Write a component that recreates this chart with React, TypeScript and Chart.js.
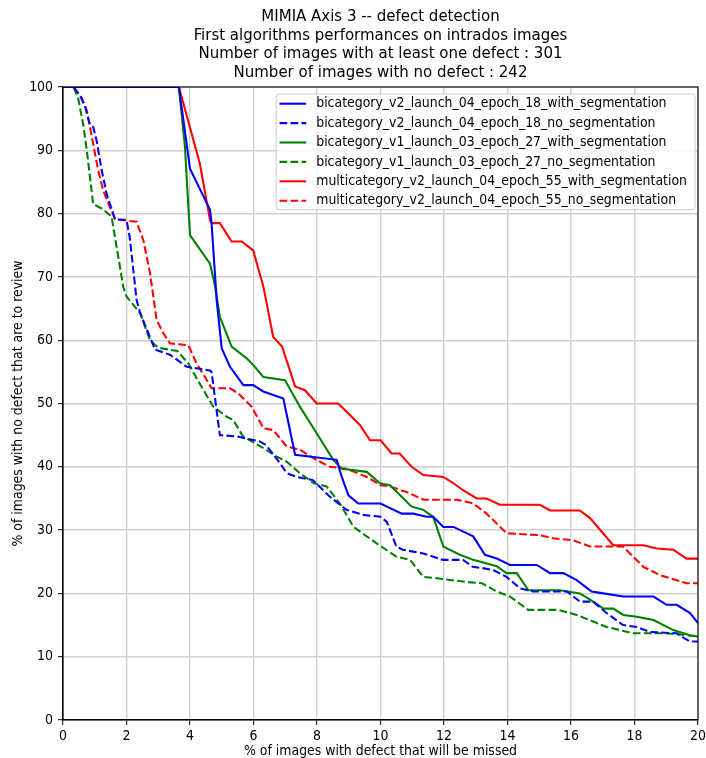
import React, { useEffect, useRef } from "react";
import { Chart, registerables } from "chart.js";

Chart.register(...registerables);

// ---------- text ----------
const TITLE_LINES = [
  "MIMIA Axis 3 -- defect detection",
  "First algorithms performances on intrados images",
  "Number of images with at least one defect : 301",
  "Number of images with no defect : 242",
];
const X_LABEL = "% of images with defect that will be missed";
const Y_LABEL = "% of images with no defect that are to review";

// ---------- axes ----------
const X_MIN = 0;
const X_MAX = 20;
const X_STEP = 2;
const Y_MIN = 0;
const Y_MAX = 100;
const Y_STEP = 10;

// ---------- series labels ----------
const LABELS = [
  "bicategory_v2_launch_04_epoch_18_with_segmentation",
  "bicategory_v2_launch_04_epoch_18_no_segmentation",
  "bicategory_v1_launch_03_epoch_27_with_segmentation",
  "bicategory_v1_launch_03_epoch_27_no_segmentation",
  "multicategory_v2_launch_04_epoch_55_with_segmentation",
  "multicategory_v2_launch_04_epoch_55_no_segmentation",
];

// ---------- series values ----------
// bicategory_v2 with segmentation
const b2SegX = [0, 3.65, 4.0, 4.63, 4.68, 4.84, 5.0, 5.26, 5.68, 5.99, 6.31, 6.94, 7.31, 8.62, 8.78, 8.99, 9.3, 10.0, 10.67, 11.03, 11.45, 11.66, 11.98, 12.3, 12.92, 13.29, 13.66, 14.08, 14.92, 15.34, 15.76, 16.18, 16.65, 17.02, 17.65, 18.6, 19.01, 19.33, 19.75, 20];
const b2SegY = [100, 100, 87.1, 80.6, 78.5, 66.3, 58.7, 55.8, 52.9, 52.9, 51.9, 50.8, 41.9, 41.1, 38.4, 35.5, 34.2, 34.2, 32.6, 32.6, 32.1, 32.1, 30.5, 30.5, 29.0, 26.1, 25.5, 24.5, 24.5, 23.2, 23.2, 22.1, 20.3, 20.0, 19.5, 19.5, 18.2, 18.2, 16.9, 15.3];

// bicategory_v2 no segmentation
const b2NoX = [0, 0.33, 0.54, 0.69, 0.85, 0.95, 1.06, 1.22, 1.38, 1.48, 1.64, 2.0, 2.1, 2.32, 2.43, 2.69, 2.9, 3.37, 3.9, 4.63, 4.68, 4.94, 5.47, 6.2, 6.4, 6.83, 7.05, 7.36, 7.87, 8.4, 8.93, 9.45, 10.0, 10.2, 10.5, 10.7, 11.35, 11.97, 12.6, 12.9, 13.2, 13.55, 13.97, 14.4, 14.8, 15.87, 16.28, 16.7, 17.12, 17.64, 18.07, 18.49, 19.33, 19.54, 19.75, 20];
const b2NoY = [100, 100, 98.6, 97.0, 94.0, 93.7, 91.5, 86.8, 83.0, 81.5, 79.1, 79.0, 76.3, 66.3, 64.3, 61.1, 58.5, 57.7, 55.8, 55.2, 55.0, 45.0, 44.8, 44.0, 43.4, 40.6, 39.0, 38.4, 37.9, 35.3, 33.2, 32.4, 32.1, 31.3, 27.4, 26.9, 26.3, 25.3, 25.3, 24.2, 24.0, 23.7, 22.6, 20.8, 20.3, 20.3, 18.7, 18.7, 16.9, 15.0, 14.7, 13.9, 13.7, 13.0, 12.4, 12.4];

// bicategory_v1 with segmentation
const b1SegX = [0, 3.65, 3.84, 4.0, 4.63, 4.79, 4.94, 5.31, 5.79, 5.99, 6.31, 6.94, 6.99, 7.46, 7.99, 8.51, 8.78, 9.57, 9.98, 10.3, 10.98, 11.35, 11.66, 11.98, 12.5, 12.92, 13.66, 13.97, 14.29, 14.66, 15.65, 16.28, 16.6, 17.02, 17.33, 17.65, 18.07, 18.6, 19.22, 19.75, 20];
const b1SegY = [100, 100, 90.6, 76.6, 72.1, 68.5, 63.7, 59.0, 57.1, 56.1, 54.2, 53.7, 53.7, 49.5, 45.3, 41.1, 39.7, 39.2, 37.4, 37.1, 33.7, 33.2, 32.1, 27.4, 26.1, 25.3, 24.3, 23.2, 23.2, 20.5, 20.5, 20.0, 19.0, 17.6, 17.6, 16.6, 16.3, 15.8, 14.2, 13.4, 13.2];

// bicategory_v1 no segmentation
const b1NoX = [0, 0.33, 0.47, 0.64, 0.75, 0.95, 1.26, 1.53, 1.9, 2.0, 2.43, 2.74, 3.0, 3.6, 3.95, 4.3, 4.73, 5.16, 5.36, 5.67, 6.3, 6.73, 7.05, 7.46, 7.9, 8.3, 8.72, 9.15, 9.88, 10.5, 10.93, 11.35, 11.77, 12.7, 13.2, 13.66, 14.08, 14.65, 15.6, 16.18, 17.12, 17.96, 19.0, 20];
const b1NoY = [100, 100, 98.4, 94.0, 90.0, 81.5, 80.7, 79.5, 68.4, 66.9, 64.3, 60.0, 58.8, 58.3, 56.3, 53.2, 49.5, 47.9, 47.4, 44.8, 43.0, 41.6, 40.8, 39.0, 37.4, 36.9, 34.2, 30.5, 27.9, 25.8, 25.3, 22.6, 22.4, 21.8, 21.6, 20.3, 19.5, 17.4, 17.4, 16.6, 14.7, 13.7, 13.7, 13.2];

// multicategory_v2 with segmentation
const m2SegX = [0, 3.65, 4.31, 4.63, 4.68, 4.94, 5.31, 5.63, 5.99, 6.31, 6.62, 6.9, 7.31, 7.62, 7.99, 8.67, 9.35, 9.67, 10.0, 10.35, 10.6, 10.98, 11.35, 11.98, 12.3, 12.6, 13.03, 13.34, 13.76, 15.02, 15.34, 16.28, 16.6, 17.33, 18.28, 18.7, 19.22, 19.64, 20];
const m2SegY = [100, 100, 87.9, 79.0, 78.5, 78.5, 75.6, 75.6, 74.2, 68.5, 60.5, 59.0, 52.7, 52.1, 50.0, 50.0, 46.6, 44.2, 44.2, 42.1, 42.1, 40.0, 38.7, 38.4, 37.4, 36.3, 35.0, 35.0, 34.0, 34.0, 33.1, 33.1, 31.9, 27.6, 27.6, 27.1, 26.9, 25.5, 25.5];

// multicategory_v2 no segmentation
const m2NoX = [0, 0.33, 0.59, 0.75, 0.85, 0.95, 1.11, 1.27, 1.48, 1.64, 2.32, 2.53, 2.74, 2.95, 3.16, 3.37, 3.95, 4.21, 4.53, 4.68, 5.26, 5.52, 5.94, 6.31, 6.62, 7.05, 7.46, 7.87, 8.4, 8.93, 9.57, 10.0, 10.3, 10.83, 11.35, 12.4, 12.92, 13.34, 13.55, 13.97, 15.02, 15.44, 16.07, 16.6, 17.64, 18.28, 18.8, 19.64, 20];
const m2NoY = [100, 100, 98.3, 96.3, 93.7, 91.0, 86.8, 83.6, 81.0, 79.1, 78.7, 75.8, 70.6, 63.2, 61.1, 59.5, 59.2, 56.3, 53.7, 52.4, 52.4, 51.6, 49.5, 46.1, 45.8, 43.2, 42.7, 41.4, 40.0, 39.7, 38.4, 37.1, 36.9, 36.0, 34.8, 34.8, 34.2, 32.6, 31.6, 29.5, 29.2, 28.7, 28.4, 27.4, 27.4, 24.2, 22.9, 21.6, 21.6];

// ---------- styles ----------
const FONT = "'DejaVu Sans Condensed', 'DejaVu Sans', sans-serif";
const BLUE = "#0000ff";
const GREEN = "#008000";
const RED = "#ff0000";
const DASH = [7.7, 3.3];
const LINE_W = 2.08;

const toPoints = (xs: number[], ys: number[]) => xs.map((x, i) => ({ x, y: ys[i] }));

const frameAndLegend = {
  id: "frameAndLegend",
  afterDatasetsDraw(chart: any) {
    const { ctx, chartArea } = chart;
    const { left, top, right, bottom } = chartArea;
    ctx.save();
    // frame (all four spines)
    ctx.strokeStyle = "#000";
    ctx.lineWidth = 1.1;
    ctx.setLineDash([]);
    ctx.strokeRect(left, top, right - left, bottom - top);

    // legend inside the plot, upper right
    const fontSize = 13.9;
    ctx.font = `${fontSize}px ${FONT}`;
    const ds = chart.data.datasets;
    const rowH = 19.4;
    const handleStart = 3.3;
    const handleLen = 26.7;
    const textOffset = 40;
    const textW = Math.max(...ds.map((d: any) => ctx.measureText(d.label).width));
    const boxW = textOffset + textW + 8;
    const boxR = right - 3;
    const boxL = boxR - boxW;
    const boxT = top + 7;
    const boxH = 9.7 + (ds.length - 1) * rowH + 9;
    ctx.beginPath();
    ctx.roundRect(boxL, boxT, boxW, boxH, 3);
    ctx.fillStyle = "rgba(255,255,255,0.8)";
    ctx.fill();
    ctx.strokeStyle = "#cccccc";
    ctx.lineWidth = 1;
    ctx.stroke();
    ds.forEach((d: any, i: number) => {
      const cy = boxT + 9.7 + i * rowH;
      ctx.beginPath();
      ctx.setLineDash(d.borderDash || []);
      ctx.strokeStyle = d.borderColor;
      ctx.lineWidth = LINE_W;
      ctx.moveTo(boxL + handleStart, cy);
      ctx.lineTo(boxL + handleStart + handleLen, cy);
      ctx.stroke();
      ctx.setLineDash([]);
      ctx.fillStyle = "#000";
      ctx.textAlign = "left";
      ctx.textBaseline = "middle";
      ctx.fillText(d.label, boxL + textOffset, cy);
    });
    ctx.restore();
  },
};

export default function App() {
  const ref = useRef<HTMLCanvasElement | null>(null);

  useEffect(() => {
    document.body.style.margin = "0";
    const canvas = ref.current;
    if (!canvas) return;

    const mk = (label: string, xs: number[], ys: number[], color: string, dashed: boolean) => ({
      label,
      data: toPoints(xs, ys),
      borderColor: color,
      backgroundColor: color,
      borderWidth: LINE_W,
      borderDash: dashed ? DASH : [],
      pointRadius: 0,
      pointHoverRadius: 0,
      fill: false,
      tension: 0,
    });

    const chart = new Chart(canvas, {
      type: "line",
      data: {
        datasets: [
          mk(LABELS[0], b2SegX, b2SegY, BLUE, false),
          mk(LABELS[1], b2NoX, b2NoY, BLUE, true),
          mk(LABELS[2], b1SegX, b1SegY, GREEN, false),
          mk(LABELS[3], b1NoX, b1NoY, GREEN, true),
          mk(LABELS[4], m2SegX, m2SegY, RED, false),
          mk(LABELS[5], m2NoX, m2NoY, RED, true),
        ] as any,
      },
      options: {
        animation: false,
        responsive: false,
        devicePixelRatio: 1,
        events: [],
        layout: { padding: { left: 0, right: 0, top: 0, bottom: 0 } },
        plugins: {
          legend: { display: false },
          tooltip: { enabled: false },
          title: {
            display: true,
            text: TITLE_LINES,
            fullSize: false,
            color: "#000",
            font: { family: FONT, size: 16.67, weight: "normal", lineHeight: 18.4 / 16.67 },
            padding: { top: 7.8, bottom: 5.6 },
          },
        },
        scales: {
          x: {
            type: "linear",
            min: X_MIN,
            max: X_MAX,
            afterFit: (s: any) => {
              s.height = 38;
              s.paddingRight = 8;
            },
            ticks: {
              stepSize: X_STEP,
              color: "#000",
              padding: 3,
              font: { family: FONT, size: 13.9 },
              maxRotation: 0,
            },
            grid: {
              color: "#d0d0d0",
              lineWidth: 1.4,
              tickColor: "#000",
              tickLength: 5,
              tickWidth: 1,
            },
            border: { display: true, color: "#000", width: 1.1 },
            title: {
              display: true,
              text: X_LABEL,
              color: "#000",
              font: { family: FONT, size: 13.9, lineHeight: 1 },
              padding: { top: 0, bottom: 0 },
            },
          },
          y: {
            type: "linear",
            min: Y_MIN,
            max: Y_MAX,
            afterFit: (s: any) => {
              s.width = 63;
            },
            ticks: {
              stepSize: Y_STEP,
              color: "#000",
              padding: 5,
              font: { family: FONT, size: 13.9 },
            },
            grid: {
              color: "#d0d0d0",
              lineWidth: 1.4,
              tickColor: "#000",
              tickLength: 5,
              tickWidth: 1,
            },
            border: { display: true, color: "#000", width: 1.1 },
            title: {
              display: true,
              text: Y_LABEL,
              color: "#000",
              font: { family: FONT, size: 13.9, lineHeight: 1.15 },
              padding: { top: 10.3, bottom: 0 },
            },
          },
        },
      } as any,
      plugins: [frameAndLegend],
    });

    return () => chart.destroy();
  }, []);

  return (
    <div style={{ width: 706, height: 758, background: "#fff" }}>
      <canvas ref={ref} width={706} height={758} style={{ display: "block" }} />
    </div>
  );
}
